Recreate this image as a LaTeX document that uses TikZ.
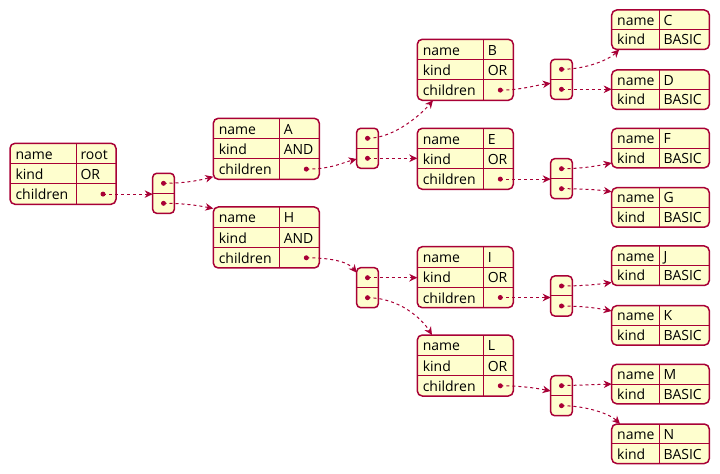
\documentclass[tikz,border=0pt]{standalone}
\usepackage{fontspec}
\setmainfont{Open Sans}
\usetikzlibrary{arrows.meta}
\definecolor{pbord}{HTML}{A80036}
\definecolor{pfill}{HTML}{FEFECE}
\tikzset{
  objbox/.style={draw=pbord, fill=pfill, line width=1.5bp, rounded corners=5bp, inner sep=0pt, outer sep=0pt},
  arrbox/.style={draw=pbord, fill=pfill, line width=1.5bp, rounded corners=4bp, inner sep=0pt, outer sep=0pt,
                 minimum width=21.6bp, minimum height=40bp},
  divline/.style={draw=pbord, line width=1bp},
  txt/.style={inner sep=0pt, outer sep=0pt, anchor=base west, font=\fontsize{14bp}{16bp}\selectfont},
  conn/.style={draw=pbord, line width=1bp, dash pattern=on 3bp off 3bp,
               -{Stealth[length=8bp,width=7.5bp,inset=2.5bp]}},
}
% three-row object: name, x, y, width, name value, kind value
\newcommand\tribox[6]{%
  \node[objbox, minimum width=#4bp, minimum height=61bp, anchor=north west] (#1) at (#2,#3) {};
  \draw[divline] (#2,#3+20.33) -- (#2+#4,#3+20.33);
  \draw[divline] (#2,#3+40.67) -- (#2+#4,#3+40.67);
  \draw[divline] (#2+66,#3) -- (#2+66,#3+61);
  \node[txt] (#1-nk) at (#2+5.5,#3+15.8) {name};
  \node[txt] (#1-nv) at (#2+70.5,#3+15.8) {#5};
  \node[txt] (#1-kk) at (#2+5.5,#3+36.1) {kind};
  \node[txt] (#1-kv) at (#2+70.5,#3+36.1) {#6};
  \node[txt] (#1-ck) at (#2+5.5,#3+56.4) {children};
  \coordinate (#1-dot) at (#2+#4-13,#3+50.8);
  \fill[pbord] (#1-dot) circle (2.5bp);
}
% two-row leaf object: name, x, y, name value
\newcommand\leafbox[4]{%
  \node[objbox, minimum width=97.6bp, minimum height=39.5bp, anchor=north west] (#1) at (#2,#3) {};
  \draw[divline] (#2,#3+19.75) -- (#2+97.6,#3+19.75);
  \draw[divline] (#2+47.6,#3) -- (#2+47.6,#3+39.5);
  \node[txt] (#1-nk) at (#2+5.5,#3+15.3) {name};
  \node[txt] (#1-nv) at (#2+52,#3+15.3) {#4};
  \node[txt] (#1-kk) at (#2+5.5,#3+35) {kind};
  \node[txt] (#1-kv) at (#2+52,#3+35) {BASIC};
}
% array of two: name, x, y
\newcommand\arrbox[3]{%
  \node[arrbox, anchor=north west] (#1) at (#2,#3) {};
  \draw[divline] (#2,#3+20) -- (#2+21.6,#3+20);
  \coordinate (#1-d1) at (#2+10.8,#3+10);
  \coordinate (#1-d2) at (#2+10.8,#3+30);
  \fill[pbord] (#1-d1) circle (2.5bp);
  \fill[pbord] (#1-d2) circle (2.5bp);
}
\begin{document}
\begin{tikzpicture}[x=1bp,y=-1bp]
\useasboundingbox (0,0) rectangle (720,474);

\tribox{root}{10}{143.3}{106}{root}{OR}
\tribox{A}{213.3}{118.3}{106}{A}{AND}
\tribox{H}{213.3}{207}{106}{H}{AND}
\tribox{B}{417.3}{39.3}{96}{B}{OR}
\tribox{E}{417.3}{128.3}{96}{E}{OR}
\tribox{I}{417.3}{246.7}{96}{I}{OR}
\tribox{L}{417.3}{335}{96}{L}{OR}

\leafbox{C}{611.7}{10}{C}
\leafbox{D}{611.7}{70}{D}
\leafbox{F}{611.7}{128.3}{F}
\leafbox{G}{611.7}{187.7}{G}
\leafbox{J}{611.7}{246}{J}
\leafbox{K}{611.7}{305.7}{K}
\leafbox{M}{611.7}{364.3}{M}
\leafbox{N}{611.7}{424}{N}

\arrbox{ra}{152.7}{173.3}
\arrbox{aa}{356.7}{128.3}
\arrbox{ha}{356.7}{267.7}
\arrbox{ba}{550.7}{59.3}
\arrbox{ea}{550.7}{158.7}
\arrbox{ia}{550.7}{276}
\arrbox{la}{550.7}{375.7}

% root
\draw[conn] (root-dot) -- (root-dot -| ra.west);
\draw[conn] (ra-d1) .. controls +(20,0) and +(-15,4) .. ([yshift=2.6bp]A.south west);
\draw[conn] (ra-d2) .. controls +(20,0) and +(-15,-3) .. ([yshift=-1.5bp]H.north west);
% A
\draw[conn] (A-dot) .. controls +(25,0) and +(-15,4) .. ([yshift=-10.7bp]aa.west);
\draw[conn] (aa-d1) .. controls +(28,0) and +(-10,12) .. ([xshift=15.7bp]B.south west);
\draw[conn] (aa-d2) -- (aa-d2 -| E.west);
% H
\draw[conn] (H-dot) .. controls +(28,0) and +(-8,-10) .. ([yshift=-5bp]ha.north west);
\draw[conn] (ha-d1) -- (ha-d1 -| I.west);
\draw[conn] (ha-d2) .. controls +(32,0) and +(-10,-16) .. ([xshift=14.7bp]L.north west);
% B
\draw[conn] (B-dot) .. controls +(20,0) and +(-15,2) .. ([yshift=-4bp]ba.west);
\draw[conn] (ba-d1) .. controls +(25,0) and +(-10,10) .. ([xshift=7.5bp]C.south west);
\draw[conn] (ba-d2) -- (ba-d2 -| D.west);
% E
\draw[conn] (E-dot) -- (E-dot -| ea.west);
\draw[conn] (ea-d1) .. controls +(20,0) and +(-15,3) .. ([yshift=4.8bp]F.south west);
\draw[conn] (ea-d2) .. controls +(20,0) and +(-15,-2) .. ([yshift=-4bp]G.north west);
% I
\draw[conn] (I-dot) -- (I-dot -| ia.west);
\draw[conn] (ia-d1) .. controls +(20,0) and +(-15,2) .. ([yshift=3bp]J.south west);
\draw[conn] (ia-d2) .. controls +(20,0) and +(-15,-3) .. ([yshift=-5.3bp]K.north west);
% L
\draw[conn] (L-dot) .. controls +(20,0) and +(-15,-3) .. ([yshift=4.7bp]la.west);
\draw[conn] (la-d1) -- (M.west);
\draw[conn] (la-d2) .. controls +(25,0) and +(-10,-10) .. ([xshift=8.3bp]N.north west);
\end{tikzpicture}
\end{document}
